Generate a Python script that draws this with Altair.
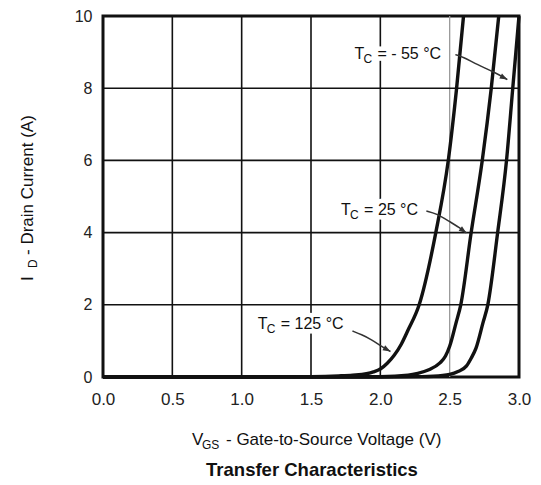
import altair as alt
import pandas as pd

# Transfer characteristics: drain current vs gate-to-source voltage at three case temperatures
vgs_125 = [0.0, 1.0, 1.5, 1.7, 1.8, 1.9, 1.95, 2.0, 2.05, 2.1, 2.15, 2.2, 2.28, 2.40, 2.49, 2.55, 2.60]
id_125 = [0.0, 0.0, 0.01, 0.03, 0.05, 0.09, 0.14, 0.22, 0.38, 0.6, 0.9, 1.3, 2.0, 4.0, 6.0, 8.0, 10.0]

vgs_25 = [0.0, 1.5, 2.0, 2.2, 2.27, 2.35, 2.43, 2.47, 2.5, 2.546, 2.58, 2.655, 2.735, 2.80, 2.854]
id_25 = [0.0, 0.0, 0.01, 0.05, 0.1, 0.2, 0.39, 0.58, 0.85, 1.5, 2.0, 4.0, 6.0, 8.0, 10.0]

vgs_m55 = [0.0, 2.0, 2.3, 2.45, 2.5, 2.56, 2.62, 2.655, 2.69, 2.74, 2.775, 2.846, 2.91, 2.955, 3.0]
id_m55 = [0.0, 0.0, 0.01, 0.04, 0.07, 0.15, 0.3, 0.52, 0.8, 1.5, 2.0, 4.0, 6.0, 8.0, 10.0]

x_ticks = [0.0, 0.5, 1.0, 1.5, 2.0, 2.5, 3.0]
y_ticks = [0, 2, 4, 6, 8, 10]
x_grid = [0.5, 1.0, 1.5, 2.0, 2.5]
x_grid_shade = ["dark", "dark", "dark", "dark", "light"]
y_grid = [2, 4, 6, 8]

# Temperature callouts (text anchor in data units) and their leader arrows
label_rest = ["= - 55 °C", "= 25 °C", "= 125 °C"]
label_v = [1.813, 1.717, 1.116]
label_i = [8.82, 4.50, 1.316]

arrow_id = ["m55"] * 5 + ["25"] * 5 + ["125"] * 5
arrow_v = [2.541, 2.600, 2.700, 2.820, 2.916,
           2.332, 2.404, 2.498, 2.570, 2.621,
           1.799, 1.864, 1.936, 2.008, 2.073]
arrow_i = [8.93, 8.86, 8.65, 8.45, 8.24,
           4.598, 4.529, 4.307, 4.141, 3.989,
           1.274, 1.177, 1.039, 0.845, 0.706]
head_v = [2.916, 2.621, 2.073]
head_i = [8.24, 3.989, 0.706]
head_angle = [28, 36, 29]

curves = pd.concat([
    pd.DataFrame({"vgs": vgs_m55, "id": id_m55, "tc": "-55"}),
    pd.DataFrame({"vgs": vgs_25, "id": id_25, "tc": "25"}),
    pd.DataFrame({"vgs": vgs_125, "id": id_125, "tc": "125"}),
], ignore_index=True)

xg = pd.DataFrame({"v": x_grid, "shade": x_grid_shade})
yg = pd.DataFrame({"i": y_grid})
labels = pd.DataFrame({"v": label_v, "i": label_i, "rest": label_rest})
arrows = pd.DataFrame({"g": arrow_id, "v": arrow_v, "i": arrow_i})
heads = pd.DataFrame({"v": head_v, "i": head_i, "a": head_angle})
one = pd.DataFrame({"k": [0]})

FONT = "Liberation Sans"

xs = alt.Scale(domain=[0, 3], nice=False)
ys = alt.Scale(domain=[0, 10], nice=False)

x_axis = alt.Axis(values=x_ticks, format=".1f", title=None, grid=False, domain=False,
                  ticks=False, tickSize=0, labelPadding=14, labelFontSize=17,
                  labelFlush=False, labelFont=FONT, labelColor="#222")
y_axis = alt.Axis(values=y_ticks, format="d", title=None, grid=False, domain=False,
                  ticks=False, tickSize=0, labelPadding=11, labelFontSize=16,
                  labelFlush=False, labelFont=FONT, labelColor="#222")

vgrid = alt.Chart(xg).mark_rule().encode(
    x=alt.X("v:Q", scale=xs, axis=x_axis),
    color=alt.Color("shade:N", scale=alt.Scale(domain=["dark", "light"], range=["#111", "#9a9a9a"]), legend=None),
    strokeWidth=alt.StrokeWidth("shade:N", scale=alt.Scale(domain=["dark", "light"], range=[1.6, 1.3]), legend=None),
)
hgrid = alt.Chart(yg).mark_rule(color="#111", strokeWidth=1.6).encode(
    y=alt.Y("i:Q", scale=ys, axis=y_axis),
)

lines = alt.Chart(curves).mark_line(color="#111", strokeWidth=3.4, interpolate="monotone").encode(
    x=alt.X("vgs:Q", scale=xs),
    y=alt.Y("id:Q", scale=ys),
    detail="tc:N",
)

arrow_lines = alt.Chart(arrows).mark_line(color="#333", strokeWidth=1.5, interpolate="basis").encode(
    x=alt.X("v:Q", scale=xs), y=alt.Y("i:Q", scale=ys), detail="g:N",
)
arrow_heads = alt.Chart(heads).mark_point(
    shape="M0,0L-2.4,-0.9L-2.4,0.9Z", filled=True, color="#333", size=40, opacity=1,
).encode(
    x=alt.X("v:Q", scale=xs), y=alt.Y("i:Q", scale=ys), angle=alt.Angle("a:Q", scale=None),
)


def callout(color, halo):
    style = dict(font=FONT, align="left", baseline="alphabetic", color=color)
    if halo:
        style.update(stroke="white", strokeWidth=9, strokeJoin="round")
    pos = dict(x=alt.X("v:Q", scale=xs), y=alt.Y("i:Q", scale=ys))
    return [
        alt.Chart(labels).mark_text(text="T", fontSize=16, **style).encode(**pos),
        alt.Chart(labels).mark_text(text="C", fontSize=12, dx=9, dy=4, **style).encode(**pos),
        alt.Chart(labels).mark_text(fontSize=16, dx=23, **style).encode(text="rest:N", **pos),
    ]


# Axis titles with subscripts, placed in pixels relative to the plot origin
def title_part(s, x, y, size, angle=0, weight="normal", align="left"):
    return alt.Chart(one).mark_text(
        text=s, fontSize=size, font=FONT, color="#111", align=align,
        baseline="alphabetic", angle=angle, fontWeight=weight,
    ).encode(x=alt.value(x), y=alt.value(y))

titles = [
    title_part("V", 89, 429, 17),
    title_part("GS", 99, 433, 12),
    title_part("- Gate-to-Source Voltage (V)", 123, 429, 17),
    title_part("I", -70, 265, 17, angle=270),
    title_part("D", -66, 252, 12, angle=270),
    title_part("- Drain Current (A)", -70, 239, 17, angle=270),
    title_part("Transfer Characteristics", 209, 460, 18.5, weight="bold", align="center"),
]

chart = alt.layer(
    vgrid, hgrid, *callout("white", True), lines, arrow_lines, arrow_heads,
    *callout("#111", False), *titles
).properties(
    width=416, height=361,
    autosize=alt.AutoSizeParams(type="none"),
    padding={"left": 103, "top": 16, "right": 22, "bottom": 108},
    background="white",
).configure_view(stroke="#111", strokeWidth=3)

chart.save("out.html", embed_options={"renderer": "svg", "actions": False})
